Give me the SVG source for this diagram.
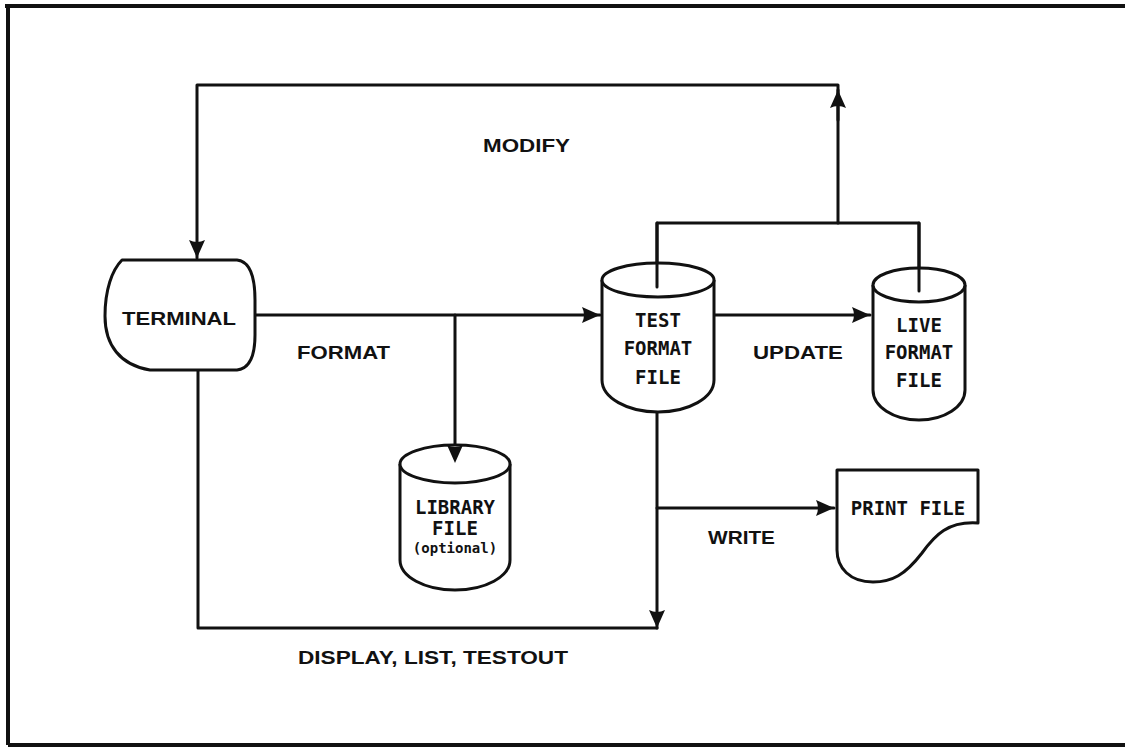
<svg xmlns="http://www.w3.org/2000/svg" width="1125" height="749" viewBox="0 0 1125 749">
<style>
.s{fill:none;stroke:#111;stroke-width:3;stroke-linejoin:round;stroke-linecap:round}
.n{fill:#fff;stroke:#111;stroke-width:3;stroke-linejoin:round}
.l{font-family:"Liberation Sans",Arial,sans-serif;font-weight:bold;font-size:19px;fill:#111}
.m{font-family:"DejaVu Sans Mono","Liberation Mono",monospace;font-weight:bold;font-size:19px;fill:#111;text-anchor:middle}
</style>
<defs>
<marker id="ah" markerUnits="userSpaceOnUse" markerWidth="20" markerHeight="18" refX="18" refY="8" orient="auto">
<path d="M0,0 L18,8 L0,16 Q4,8 0,0 Z" fill="#111"/>
</marker>
</defs>
<rect width="1125" height="749" fill="#fff"/>
<g id="frame">
<path d="M5,6 H1125 M8,6 V745 M8,745 H1125" fill="none" stroke="#111" stroke-width="4"/>
</g>
<g id="connectors">
<path class="s" d="M838,223 V85 H197 V258" marker-end="url(#ah)"/>
<path class="s" d="M838,120 V90" marker-end="url(#ah)"/>
<path class="s" d="M657,287 V223 H919 V290"/>
<path class="s" d="M256,315 H600" marker-end="url(#ah)"/>
<path class="s" d="M455,315 V463" marker-end="url(#ah)"/>
<path class="s" d="M714,315 H870" marker-end="url(#ah)"/>
<path class="s" d="M198,370 V628 H657"/>
<path class="s" d="M657,412 V628" marker-end="url(#ah)"/>
<path class="s" d="M657,508 H834" marker-end="url(#ah)"/>
<text class="l" x="483" y="152" textLength="87" lengthAdjust="spacingAndGlyphs">MODIFY</text>
<text class="l" x="297" y="359" textLength="93" lengthAdjust="spacingAndGlyphs">FORMAT</text>
<text class="l" x="753" y="359" textLength="90" lengthAdjust="spacingAndGlyphs">UPDATE</text>
<text class="l" x="708" y="544" textLength="67" lengthAdjust="spacingAndGlyphs">WRITE</text>
<text class="l" x="298" y="664" textLength="270" lengthAdjust="spacingAndGlyphs">DISPLAY, LIST, TESTOUT</text>
</g>
<g id="terminal">
<path class="n" d="M122,260 L237,260 Q255,262 255,300 L255,335 Q255,368 237,370 L150,370 C120,365 105,345 105,316 C105,290 112,270 122,260 Z"/>
<text class="l" x="122" y="325" textLength="114" lengthAdjust="spacingAndGlyphs">TERMINAL</text>
</g>
<g id="test-format-file">
<path class="n" d="M602,280 V380 A56,32 0 0 0 714,380 V280"/>
<ellipse class="n" cx="658" cy="280" rx="56" ry="17"/>
<path class="s" d="M657,223 V287"/>
<text class="m" x="658" y="327">TEST</text>
<text class="m" x="658" y="355">FORMAT</text>
<text class="m" x="658" y="384">FILE</text>
</g>
<g id="live-format-file">
<path class="n" d="M873,285 V390 A46,30 0 0 0 965,390 V285"/>
<ellipse class="n" cx="919" cy="285" rx="46" ry="17"/>
<path class="s" d="M919,223 V291"/>
<text class="m" x="919" y="332">LIVE</text>
<text class="m" x="919" y="359">FORMAT</text>
<text class="m" x="919" y="387">FILE</text>
</g>
<g id="library-file">
<path class="n" d="M400,464 V560 A55,30 0 0 0 510,560 V464"/>
<ellipse class="n" cx="455" cy="464" rx="55" ry="19"/>
<path d="M447,445 L455,463 L463,445 Q455,449 447,445 Z" fill="#111"/>
<text class="m" x="455" y="514">LIBRARY</text>
<text class="m" x="455" y="535">FILE</text>
<text class="m" x="455" y="553" style="font-size:14px">(optional)</text>
</g>
<g id="print-file">
<path class="n" d="M837,470 H978 V523 C948,521 935,535 922,553 C905,575 892,582 873,582 C850,582 837,568 837,550 Z"/>
<text class="m" x="908" y="515">PRINT FILE</text>
</g>
</svg>
